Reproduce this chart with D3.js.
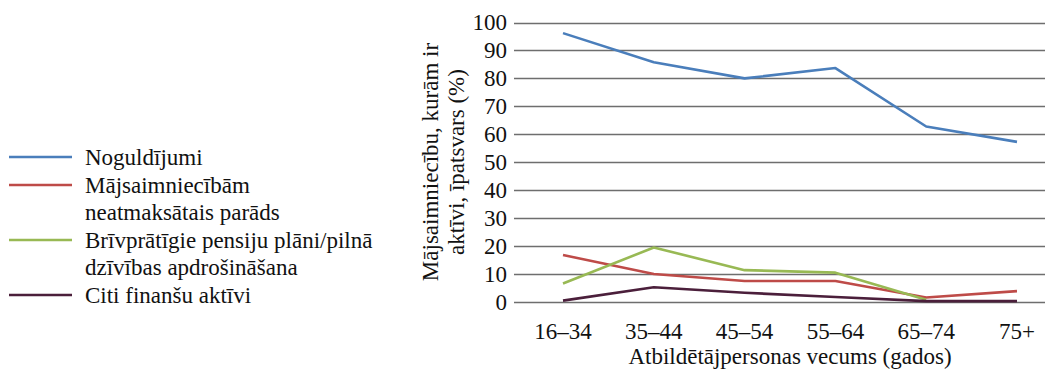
<!DOCTYPE html>
<html>
<head>
<meta charset="utf-8">
<script src="https://cdn.jsdelivr.net/npm/d3@7/dist/d3.min.js"></script>
</head>
<body style="margin:0;background:#fff">
<svg id="chart" width="1045" height="374" style="display:block" font-family="Liberation Serif"></svg>
<script>
// Age groups of the reference person
const categories = ["16–34", "35–44", "45–54", "55–64", "65–74", "75+"];

// Share of households holding each asset (%)
const deposits     = [96.2, 85.8, 80.0, 83.7, 62.8, 57.3];
const unpaidDebt   = [16.8, 10.0, 7.5, 7.5, 1.6, 3.9];
const pensionPlans = [6.6, 19.5, 11.4, 10.5, 0.8, null];
const otherAssets  = [0.5, 5.3, 3.3, 1.8, 0.3, 0.3];

const seriesNames = [
  ["Noguldījumi"],
  ["Mājsaimniecībām", "neatmaksātais parāds"],
  ["Brīvprātīgie pensiju plāni/pilnā", "dzīvības apdrošināšana"],
  ["Citi finanšu aktīvi"]
];
const seriesColors = ["#4a7ebb", "#be4b48", "#98b954", "#4b1f3b"];
const seriesValues = [deposits, unpaidDebt, pensionPlans, otherAssets];

const yTicks = [0, 10, 20, 30, 40, 50, 60, 70, 80, 90, 100];

const FONT = "Liberation Serif";
const fontSize = 23;
const textColor = "#111";

const svg = d3.select("#chart");

// Scales
const x = d3.scalePoint().domain(categories).range([517.6, 1062.4]).padding(0.5);
const y = d3.scaleLinear().domain([0, 100]).range([302, 22.5]);
const gridLeft = 514, gridRight = 1062.4;

// Horizontal gridlines
svg.append("g").selectAll("line")
  .data(yTicks)
  .join("line")
  .attr("x1", gridLeft).attr("x2", gridRight)
  .attr("y1", d => Math.round(y(d)) + 0.5)
  .attr("y2", d => Math.round(y(d)) + 0.5)
  .attr("stroke", "#6e6e6e")
  .attr("stroke-width", 1.3);

// Y tick labels
svg.append("g").selectAll("text")
  .data(yTicks)
  .join("text")
  .attr("x", gridLeft - 7)
  .attr("y", d => y(d))
  .attr("dy", "0.34em")
  .attr("text-anchor", "end")
  .text(d => d);

// Category labels
svg.append("g").selectAll("text")
  .data(categories)
  .join("text")
  .attr("x", d => x(d))
  .attr("y", 339)
  .attr("text-anchor", "middle")
  .text(d => d);

// Series lines
const line = d3.line()
  .defined(d => d.v != null)
  .x(d => x(d.c))
  .y(d => y(d.v));

seriesValues.forEach((vals, i) => {
  svg.append("path")
    .datum(categories.map((c, j) => ({ c, v: vals[j] })))
    .attr("fill", "none")
    .attr("stroke", seriesColors[i])
    .attr("stroke-width", 2.6)
    .attr("stroke-linejoin", "round")
    .attr("d", line);
});

// Axis titles
svg.append("text")
  .attr("x", 790).attr("y", 364)
  .attr("text-anchor", "middle")
  .text("Atbildētājpersonas vecums (gados)");

const yTitle = svg.append("text")
  .attr("transform", "translate(438,162) rotate(-90)")
  .attr("text-anchor", "middle");
yTitle.append("tspan").attr("x", 0).attr("y", 0).text("Mājsaimniecību, kurām ir");
yTitle.append("tspan").attr("x", 0).attr("y", 25.5).text("aktīvi, īpatsvars (%)");

// Legend
const legendRows = [157, 185, 240, 295];
seriesNames.forEach((lines, i) => {
  const cy = legendRows[i];
  svg.append("line")
    .attr("x1", 9).attr("x2", 72)
    .attr("y1", cy).attr("y2", cy)
    .attr("stroke", seriesColors[i])
    .attr("stroke-width", 2.6);
  const t = svg.append("text");
  lines.forEach((s, k) => {
    t.append("tspan").attr("x", 85).attr("y", cy + 7.5 + k * 27.5).text(s);
  });
});

// Shared text styling
svg.selectAll("text")
  .style("font-family", FONT)
  .attr("font-size", fontSize)
  .attr("fill", textColor);
</script>
</body>
</html>
